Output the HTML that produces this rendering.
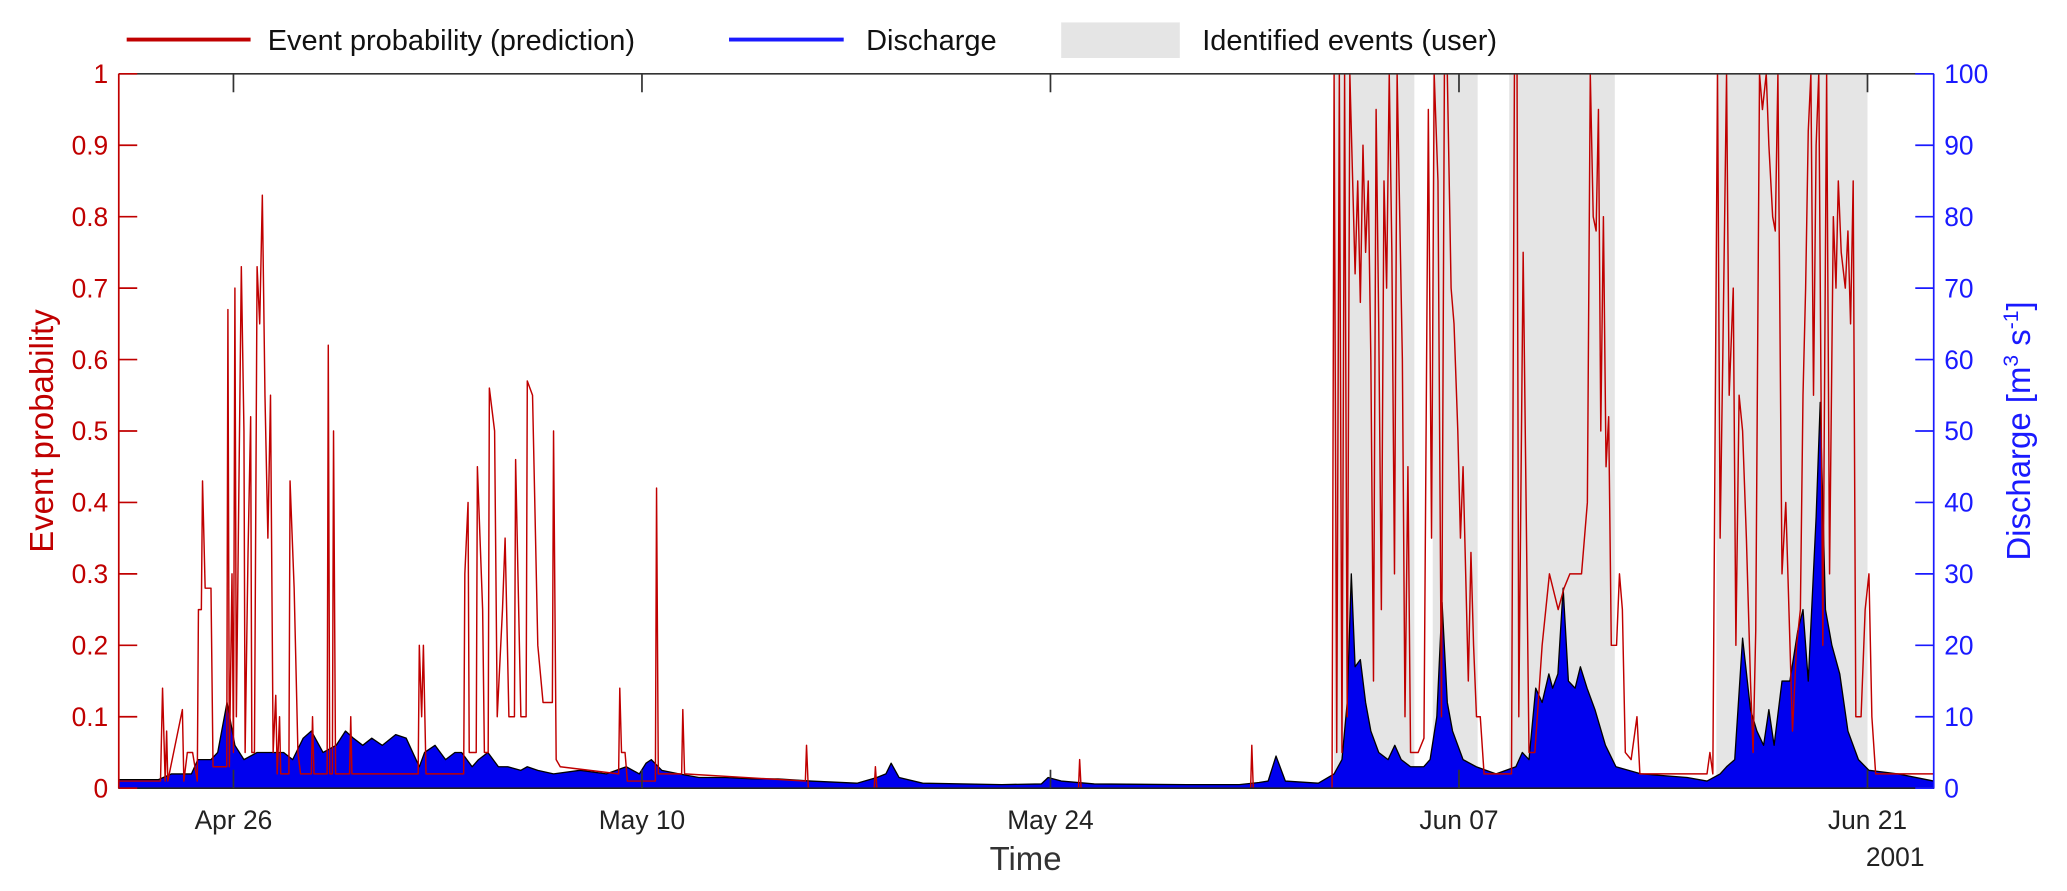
<!DOCTYPE html>
<html><head><meta charset="utf-8"><style>
html,body{margin:0;padding:0;background:#fff;}
svg{display:block;font-family:"Liberation Sans",Arial,sans-serif;}
</style></head><body>
<svg id="chart" width="2067" height="891" viewBox="0 0 1568 676" xmlns="http://www.w3.org/2000/svg">
<g id="events"></g>
<g id="discharge"></g>
<g id="prob"></g>
<g id="axes"></g>
<g id="legend">
  <line x1="96" y1="30" x2="190" y2="30" stroke="#c00000" stroke-width="3"/>
  <text x="203" y="38" font-size="22" fill="#111">Event probability (prediction)</text>
  <line x1="553" y1="30" x2="640" y2="30" stroke="#1a1aff" stroke-width="3"/>
  <text x="657" y="38" font-size="22" fill="#111">Discharge</text>
  <rect x="805" y="17" width="90" height="27" fill="#e5e5e5"/>
  <text x="912" y="38" font-size="22" fill="#111">Identified events (user)</text>
</g>
<text x="778" y="660" text-anchor="middle" font-size="25" fill="#333">Time</text>
<text x="1460" y="657" text-anchor="end" font-size="20" fill="#222">2001</text>
<text transform="translate(40,327) rotate(-90)" text-anchor="middle" font-size="25" fill="#c00000">Event probability</text>
<text transform="translate(1540,327) rotate(-90)" text-anchor="middle" font-size="25" fill="#1a1aff">Discharge [m<tspan font-size="16" dy="-9">3</tspan><tspan dy="9"> s</tspan><tspan font-size="16" dy="-9">-1</tspan><tspan dy="9">]</tspan></text>
</svg>
<script>
// time in days since Apr 22 2001 00:00
const tickDays = [4, 18, 32, 46, 60];
const tickLabels = ["Apr 26", "May 10", "May 24", "Jun 07", "Jun 21"];
const probTicks = [0,0.1,0.2,0.3,0.4,0.5,0.6,0.7,0.8,0.9,1];
const qTicks = [0,10,20,30,40,50,60,70,80,90,100];
const eventStart = [41.72, 45.1, 47.72, 54.82];
const eventEnd = [44.47, 46.64, 51.34, 60.0];
const qTime = [0.07,1.43,1.88,2.56,2.78,3.23,3.46,3.78,4.05,4.36,4.81,5.27,5.72,6.03,6.39,6.67,7.07,7.52,7.84,8.11,8.43,8.74,9.1,9.56,9.92,10.37,10.55,10.91,11.27,11.59,11.82,12.18,12.4,12.72,13.08,13.4,13.85,14.07,14.43,14.97,15.88,16.78,17.46,17.91,18.14,18.32,18.68,19.27,19.95,20.86,21.76,22.66,23.79,25.37,26.05,26.36,26.54,26.81,27.62,30.33,31.69,31.92,32.37,33.5,36.66,38.47,39.15,39.46,39.73,40.05,41.18,41.72,41.99,42.17,42.31,42.44,42.62,42.8,42.98,43.25,43.57,43.8,44.02,44.34,44.79,45.01,45.24,45.42,45.6,45.78,46.14,46.59,47.27,47.95,48.17,48.4,48.63,48.85,49.08,49.21,49.39,49.57,49.75,49.98,50.16,50.39,50.66,51.02,51.38,52.24,53.82,54.5,54.95,55.17,55.45,55.72,55.99,56.21,56.44,56.62,56.8,57.07,57.34,57.61,57.79,57.97,58.24,58.38,58.56,58.78,59.05,59.33,59.69,60.05,61.04,62.27];
const qValue = [1.2,1.2,2,2,4,4,5,12,6,4,5,5,5,4,7,8,5,6,8,7,6,7,6,7.5,7,3,5,6,4,5,5,3,4,5,3,3,2.5,3,2.5,2,2.5,2,3,2,3.5,4,2.5,2,1.5,1.5,1.3,1.3,1,0.7,1.5,2,3.5,1.5,0.7,0.5,0.6,1.5,1,0.6,0.5,0.5,0.8,1,4.5,1,0.7,2,4,12,30,17,18,12,8,5,4,6,4,3,3,4,10,26,12,8,4,3,2,3,5,4,14,12,16,14,16,28,15,14,17,14,11,6,3,2,1.5,1,2,3,4,21,11,8,6,11,6,15,15,22,25,15,38,54,25,20,16,8,4,2.5,2,1];
const pTime = [0.07,1.5,1.57,1.66,1.71,1.75,2.25,2.3,2.42,2.6,2.76,2.8,2.9,2.94,3.03,3.23,3.3,3.77,3.81,3.86,3.95,4.0,4.05,4.1,4.27,4.36,4.4,4.5,4.59,4.63,4.72,4.81,4.9,4.99,5.08,5.18,5.27,5.36,5.45,5.5,5.58,5.62,5.9,5.94,6.08,6.21,6.3,6.67,6.71,6.76,7.21,7.25,7.3,7.39,7.43,7.5,7.98,8.02,8.06,10.33,10.37,10.45,10.51,10.6,11.89,11.93,12.04,12.08,12.32,12.36,12.54,12.6,12.73,12.77,12.95,13.04,13.22,13.31,13.44,13.63,13.67,13.85,14.03,14.07,14.25,14.43,14.61,14.93,14.97,15.06,15.2,17.2,17.24,17.3,17.42,17.5,18.46,18.5,18.56,19.36,19.4,19.46,23.6,23.64,23.7,25.96,26.0,26.05,32.96,33.0,33.05,38.86,38.9,38.95,41.65,41.72,41.81,41.9,41.99,42.08,42.17,42.26,42.44,42.53,42.62,42.71,42.8,42.89,42.98,43.07,43.16,43.25,43.34,43.43,43.52,43.61,43.7,43.79,43.88,43.97,44.06,44.15,44.25,44.34,44.6,44.8,44.95,45.06,45.15,45.28,45.4,45.5,45.6,45.73,45.83,45.96,46.05,46.14,46.23,46.32,46.41,46.5,46.6,46.73,46.86,47.8,47.9,47.99,48.05,48.2,48.3,48.4,48.6,48.85,49.1,49.4,49.6,49.8,50.2,50.4,50.5,50.6,50.7,50.78,50.86,50.95,51.04,51.13,51.22,51.4,51.5,51.6,51.7,51.9,52.1,52.2,54.5,54.6,54.7,54.86,54.95,55.04,55.17,55.26,55.4,55.49,55.6,55.72,55.85,55.99,56.08,56.17,56.3,56.4,56.53,56.62,56.75,56.84,56.93,57.07,57.2,57.43,57.57,57.7,57.79,57.88,57.97,58.06,58.15,58.24,58.33,58.47,58.6,58.7,58.83,58.92,59.0,59.1,59.24,59.33,59.42,59.51,59.6,59.78,59.92,60.05,60.15,60.28,62.27];
const pValue = [0.01,0.01,0.14,0.01,0.08,0.01,0.11,0.01,0.05,0.05,0.01,0.25,0.25,0.43,0.28,0.28,0.03,0.03,0.67,0.03,0.3,0.05,0.7,0.1,0.73,0.5,0.05,0.33,0.52,0.05,0.05,0.73,0.65,0.83,0.55,0.35,0.55,0.05,0.13,0.02,0.1,0.02,0.02,0.43,0.28,0.05,0.02,0.02,0.1,0.02,0.02,0.62,0.02,0.02,0.5,0.02,0.02,0.1,0.02,0.02,0.2,0.1,0.2,0.02,0.02,0.3,0.4,0.05,0.05,0.45,0.25,0.05,0.05,0.56,0.5,0.1,0.25,0.35,0.1,0.1,0.46,0.1,0.1,0.57,0.55,0.2,0.12,0.12,0.5,0.04,0.03,0.02,0.14,0.05,0.05,0.01,0.01,0.42,0.02,0.02,0.11,0.02,0.01,0.06,0,0,0.03,0,0,0.04,0,0,0.06,0,0,1,0.05,1,0.05,1,0.1,1,0.72,0.85,0.68,0.9,0.75,0.85,0.6,0.15,0.95,0.65,0.25,0.85,0.7,1,0.75,0.3,1,0.8,0.6,0.1,0.45,0.05,0.05,0.07,0.95,0.35,1,0.85,0.1,1,1,0.7,0.65,0.5,0.35,0.45,0.3,0.15,0.33,0.2,0.1,0.1,0.02,0.02,1,1,0.1,0.75,0.4,0.05,0.05,0.2,0.3,0.25,0.28,0.3,0.3,0.4,1,0.8,0.78,0.95,0.5,0.8,0.45,0.52,0.2,0.2,0.3,0.25,0.05,0.04,0.1,0.02,0.02,0.05,0.02,1,0.35,0.6,1,0.55,0.7,0.2,0.55,0.5,0.35,0.15,0.05,0.22,1,0.95,1,0.9,0.8,0.78,1,0.3,0.4,0.08,0.2,0.25,0.55,0.7,0.92,1,0.55,0.9,1,0.2,1,0.3,0.8,0.7,0.85,0.75,0.7,0.78,0.65,0.85,0.1,0.1,0.25,0.3,0.1,0.02,0.02];

const L=90,R=1467,T=56,B=598, D0=0.07, D1=62.27;
const xS = d => L + (d-D0)/(D1-D0)*(R-L);
const yP = p => B - p*(B-T);
const yQ = q => B - q/100*(B-T);
const NS="http://www.w3.org/2000/svg";
function mk(tag, attrs, parent){const e=document.createElementNS(NS,tag);for(const k in attrs)e.setAttribute(k,attrs[k]);parent.appendChild(e);return e;}

const gE=document.getElementById('events');
eventStart.forEach((s,i)=>{
  const r=mk('rect',{x:xS(s),y:T,width:xS(eventEnd[i])-xS(s),height:B-T,fill:'#e5e5e5'},gE);
  
  
});

const gQ=document.getElementById('discharge');
let dq='M'+xS(qTime[0])+','+yQ(0);
qTime.forEach((t,i)=>{dq+=' L'+xS(t).toFixed(2)+','+yQ(qValue[i]).toFixed(2);});
dq+=' L'+xS(qTime[qTime.length-1])+','+yQ(0)+' Z';
const qa=mk('path',{d:dq,fill:'#0000ee',stroke:'#000',"stroke-width":1,"stroke-linejoin":"round"},gQ);



const gP=document.getElementById('prob');
let dp='';
pTime.forEach((t,i)=>{dp+=(i?' L':'M')+xS(t).toFixed(2)+','+yP(pValue[i]).toFixed(2);});
const pl=mk('path',{d:dp,fill:'none',stroke:'#c00000',"stroke-width":1.1,"stroke-linejoin":"round"},gP);



const gA=document.getElementById('axes');
mk('line',{x1:L,y1:T,x2:R,y2:T,stroke:'#333',"stroke-width":1.3},gA);
mk('line',{x1:L,y1:B,x2:R,y2:B,stroke:'#222',"stroke-width":1.3},gA);
mk('line',{x1:L,y1:T,x2:L,y2:B,stroke:'#c00000',"stroke-width":1.3},gA);
mk('line',{x1:R,y1:T,x2:R,y2:B,stroke:'#1a1aff',"stroke-width":1.3},gA);
probTicks.forEach(p=>{
  const y=yP(p);
  mk('line',{x1:L,y1:y,x2:L+14,y2:y,stroke:'#c00000',"stroke-width":1.3},gA);
  const t=mk('text',{x:L-8,y:y+7,"text-anchor":"end","font-size":20,fill:'#c00000'},gA);
  t.textContent=String(p);
  
  
});
qTicks.forEach(q=>{
  const y=yQ(q);
  mk('line',{x1:R-14,y1:y,x2:R,y2:y,stroke:'#1a1aff',"stroke-width":1.3},gA);
  const t=mk('text',{x:R+8,y:y+7,"font-size":20,fill:'#1a1aff'},gA);
  t.textContent=String(q);
  
  
});
tickDays.forEach((d,i)=>{
  const x=xS(d);
  mk('line',{x1:x,y1:T,x2:x,y2:T+14,stroke:'#333',"stroke-width":1.3},gA);
  mk('line',{x1:x,y1:B-14,x2:x,y2:B,stroke:'#333',"stroke-width":1.3},gA);
  const t=mk('text',{x:x,y:629,"text-anchor":"middle","font-size":20,fill:'#222'},gA);
  t.textContent=tickLabels[i];
  
  
});
</script>
</body></html>
